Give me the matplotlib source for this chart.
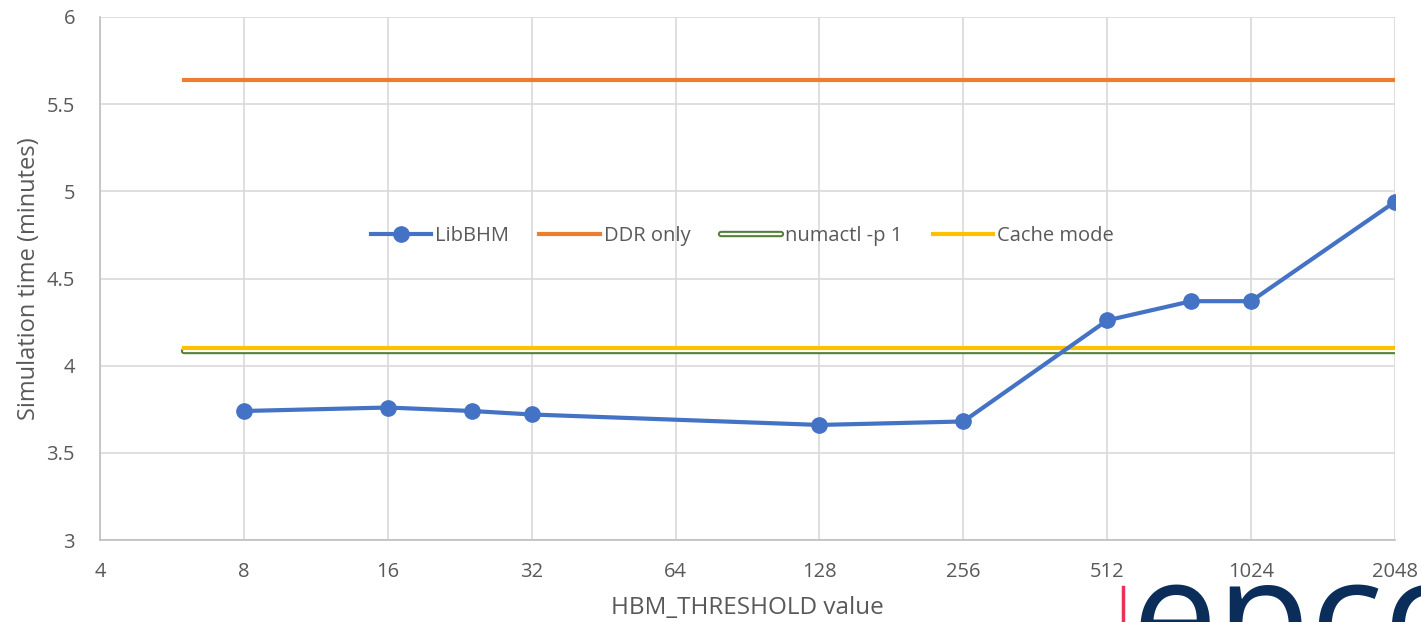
import numpy as np
import matplotlib
matplotlib.use('Agg')
import matplotlib.pyplot as plt
import matplotlib.patheffects as pe

# data
thresholds = [8, 16, 24, 32, 128, 256, 512, 768, 1024, 2048]
libbhm = [3.74, 3.76, 3.74, 3.72, 3.66, 3.68, 4.26, 4.37, 4.37, 4.94]
line_x = [6, 2048]
ddr_only = 5.64
numactl = 4.085
cache_mode = 4.10
xticks = [4, 8, 16, 32, 64, 128, 256, 512, 1024, 2048]

plt.rcParams['font.family'] = ['Open Sans', 'DejaVu Sans']

fig = plt.figure(figsize=(14.21, 6.22), dpi=100)
ax = fig.add_axes([0.0704, 0.1318, 0.9113, 0.8409])

ax.plot(line_x, [ddr_only] * 2, color='#ed7d31', lw=3, label='DDR only', zorder=3)
ax.plot(line_x, [numactl] * 2, color='white', lw=1.6, label='numactl -p 1', zorder=3,
        solid_capstyle='round',
        path_effects=[pe.Stroke(linewidth=4.6, foreground='#548235'), pe.Normal()])
ax.plot(line_x, [cache_mode] * 2, color='#ffc000', lw=3, label='Cache mode', zorder=4)
ax.plot(thresholds, libbhm, color='#4472c4', lw=3, marker='o', markersize=11,
        label='LibBHM', zorder=5)

ax.set_xscale('log', base=2)
ax.set_xlim(4, 2048)
ax.set_ylim(3, 6)
ax.set_xticks(xticks)
ax.set_xticklabels([str(t) for t in xticks])
ax.minorticks_off()
ax.set_yticks([3, 3.5, 4, 4.5, 5, 5.5, 6])
ax.set_yticklabels(['3', '3.5', '4', '4.5', '5', '5.5', '6'])
ax.tick_params(length=0, labelsize=14.5, colors='#595959')
ax.tick_params(axis='x', pad=16)
ax.tick_params(axis='y', pad=18)
ax.grid(True, color='#d9d9d9', lw=1.2)
ax.set_axisbelow(True)
for s in ['top', 'right']:
    ax.spines[s].set_visible(False)
for s in ['left', 'bottom']:
    ax.spines[s].set_color('#bfbfbf')
    ax.spines[s].set_linewidth(1.2)

ax.set_xlabel('HBM_THRESHOLD value', fontsize=17.5, color='#595959', labelpad=10)
ax.set_ylabel('Simulation time (minutes)', fontsize=17, color='#595959', labelpad=4)

handles, labels = ax.get_legend_handles_labels()
order = [3, 0, 1, 2]
ax.legend([handles[i] for i in order], [labels[i] for i in order], ncol=4,
          loc='center', bbox_to_anchor=(0.496, 0.581), frameon=False,
          fontsize=14.5, labelcolor='#595959', handlelength=3, columnspacing=1.5,
          handletextpad=0.2)

# logo fragment at bottom right
fig.add_artist(plt.Line2D([1123 / 1421, 1123 / 1421], [0, 35 / 622], color='#e8325a', lw=2.5))
fig.text(1132 / 1421, -0.0756, 'epcc', fontsize=110, color='#0b2d5a',
         family='Open Sans', va='baseline', ha='left')

fig.savefig('out.png', dpi=100)
